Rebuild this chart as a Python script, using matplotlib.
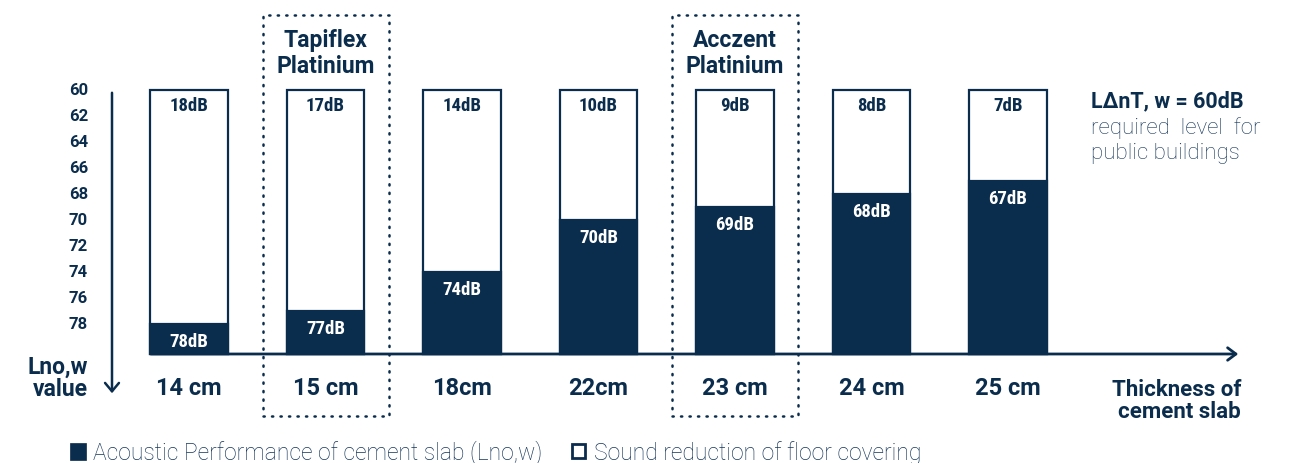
import matplotlib
matplotlib.use("Agg")
import matplotlib.pyplot as plt
from matplotlib import font_manager
from matplotlib.patches import Rectangle

categories = ["14 cm", "15 cm", "18cm", "22cm", "23 cm", "24 cm", "25 cm"]
slab_values = [78, 77, 74, 70, 69, 68, 67]          # Lno,w of cement slab (dB)
reduction_values = [18, 17, 14, 10, 9, 8, 7]          # reduction by floor covering (dB)
y_ticks = [60, 62, 64, 66, 68, 70, 72, 74, 76, 78]
highlighted = {1: ["Tapiflex", "Platinium"], 4: ["Acczent", "Platinium"]}
required_level = 60

NAVY = "#0b2d4d"
LEG = "#14355a"

avail = {f.name for f in font_manager.fontManager.ttflist}
def pick(names):
    for n in names:
        if n in avail:
            return n
    return "DejaVu Sans"
MAIN = pick(["Roboto", "Noto Sans", "DejaVu Sans"])
COND = pick(["Roboto Condensed", "Liberation Sans Narrow", "DejaVu Sans"])

W, H = 1297, 464
fig = plt.figure(figsize=(W / 100, H / 100), dpi=100)
ax = fig.add_axes([0, 0, 1, 1])
# pixel mapping: category i -> 189 + 136.5*i ; value v -> 91 + 13*(v-60)
x0, dx = 189.0, 136.5
y0, dy = 91.0, 13.0
ax.set_xlim((0 - x0) / dx, (W - x0) / dx)
ax.set_ylim(60 + (H - y0) / dy, 60 - y0 / dy)
ax.axis("off")

def px(xp):
    return (xp - x0) / dx
def py(yp):
    return 60 + (yp - y0) / dy

base = py(355)
bw = 0.57
n = len(categories)
for i in range(n):
    top = slab_values[i] - reduction_values[i]
    ax.bar(i, base - top, bottom=top, width=bw, color="white",
           edgecolor=NAVY, linewidth=1.6, zorder=2)
    ax.bar(i, base - slab_values[i], bottom=slab_values[i], width=bw,
           color=NAVY, edgecolor=NAVY, linewidth=1.6, zorder=3)
    ax.text(i, top + 1.15, f"{reduction_values[i]}dB", ha="center", va="center",
            color=NAVY, fontsize=13.5, fontweight="bold", family=COND, zorder=4)
    ax.text(i, slab_values[i] + 1.3, f"{slab_values[i]}dB", ha="center", va="center",
            color="white", fontsize=13.5, fontweight="bold", family=COND, zorder=4)
    ax.text(i, py(389), categories[i], ha="center", va="center", color=NAVY,
            fontsize=17, fontweight="bold", family=MAIN)

# highlighted boxes
for i, lines in highlighted.items():
    ax.add_patch(Rectangle((i + px(262) - px(325), py(417)), px(388) - px(262),
                           py(16) - py(417), fill=False, edgecolor=NAVY,
                           linewidth=1.8, linestyle=(0, (0.5, 2.9)), zorder=1,
                           capstyle="round"))
    ax.text(i, py(41), lines[0], ha="center", va="center", color=NAVY,
            fontsize=16.5, fontweight="bold", family=MAIN)
    ax.text(i, py(67), lines[1], ha="center", va="center", color=NAVY,
            fontsize=16.5, fontweight="bold", family=MAIN)

# y ticks
for t in y_ticks:
    ax.text(px(88), t, str(t), ha="right", va="center", color=NAVY,
            fontsize=12, fontweight="bold", family=MAIN)

# axes arrows
ax.annotate("", xy=(px(112), py(397)), xytext=(px(112), py(91)),
            arrowprops=dict(arrowstyle="->,head_length=0.6,head_width=0.5",
                            color=NAVY, lw=1.8))
ax.annotate("", xy=(px(1241), base), xytext=(px(148), base),
            arrowprops=dict(arrowstyle="->,head_length=0.6,head_width=0.45",
                            color=NAVY, lw=2.0))
ax.text(px(88), py(367), "Lno,w", ha="right", va="center", color=NAVY,
        fontsize=16.5, fontweight="bold", family=MAIN)
ax.text(px(88), py(390), "value", ha="right", va="center", color=NAVY,
        fontsize=16.5, fontweight="bold", family=MAIN)
ax.text(px(1241), py(390), "Thickness of", ha="right", va="center",
        color=NAVY, fontsize=16, fontweight="bold", family=MAIN)
ax.text(px(1241), py(412), "cement slab", ha="right", va="center",
        color=NAVY, fontsize=16, fontweight="bold", family=MAIN)

# required level note
ax.text(px(1091), py(101), f"LΔnT, w = {required_level}dB", ha="left", va="center",
        color=NAVY, fontsize=15.5, fontweight="bold", family=MAIN)
ax.text(px(1091), py(128), "required  level  for", ha="left",
        va="center", color=LEG, fontsize=16, fontweight="light", family=MAIN)
ax.text(px(1091), py(154), "public buildings", ha="left",
        va="center", color=LEG, fontsize=16, fontweight="light", family=MAIN)

# legend
ax.add_patch(Rectangle((px(70), py(461)), px(86) - px(70), py(444) - py(461),
                       facecolor=NAVY, edgecolor=NAVY, lw=0.5))
ax.text(px(93), py(453), "Acoustic Performance of cement slab (Lno,w)", ha="left",
        va="center", color=LEG, fontsize=16.5, fontweight="light", family=MAIN)
ax.add_patch(Rectangle((px(572), py(459)), px(585) - px(572), py(445) - py(459),
                       facecolor="white", edgecolor=NAVY, lw=2))
ax.text(px(594), py(453), "Sound reduction of floor covering", ha="left",
        va="center", color=LEG, fontsize=16.5, fontweight="light", family=MAIN)

fig.savefig("out.png", dpi=100)
